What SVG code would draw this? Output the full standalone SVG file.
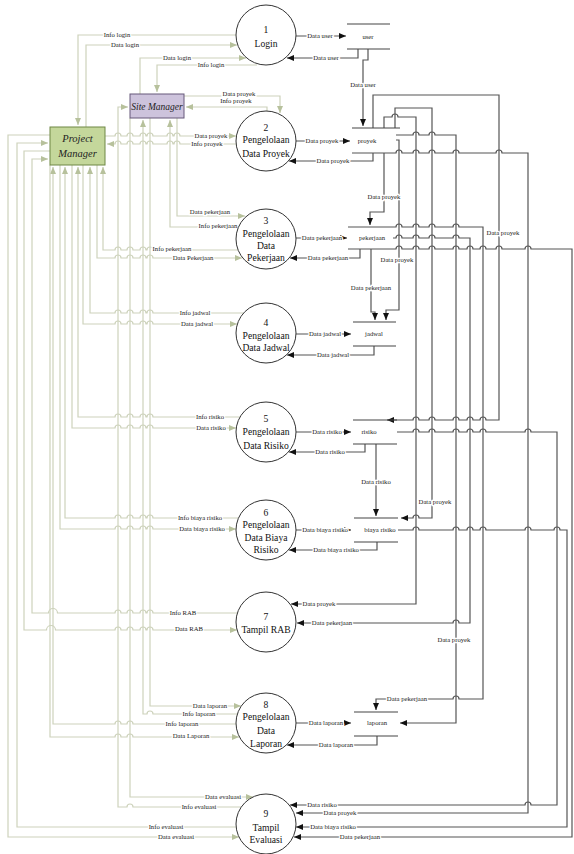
<svg xmlns="http://www.w3.org/2000/svg" width="574" height="854" viewBox="0 0 574 854" font-family="'Liberation Serif', 'DejaVu Serif', serif">
<defs>
<marker id="ab" markerWidth="7" markerHeight="6" refX="7" refY="3" orient="auto" markerUnits="userSpaceOnUse"><path d="M0,0 L7,3 L0,6 z" fill="#111"/></marker>
<marker id="ap" markerWidth="7" markerHeight="6" refX="7" refY="3" orient="auto" markerUnits="userSpaceOnUse"><path d="M0,0 L7,3 L0,6 z" fill="#b7c19c"/></marker>
<style>
.pl{fill:none;stroke:#cdd2bb;stroke-width:1.2;marker-end:url(#ap)}
.dl{fill:none;stroke:#555;stroke-width:1.2;marker-end:url(#ab)}
.st{fill:none;stroke:#444;stroke-width:1.2}
.lb{font-family:'Liberation Serif','DejaVu Serif',serif;font-size:6.7px;fill:#222;text-anchor:middle;stroke:#fff;stroke-width:2.5px;paint-order:stroke}
.sl{font-family:'Liberation Serif','DejaVu Serif',serif;font-size:6.7px;fill:#222;text-anchor:middle}
.pt{font-family:'Liberation Serif','DejaVu Serif',serif;font-size:9.6px;fill:#111;text-anchor:middle}
.pc{fill:#fff;stroke:#333;stroke-width:1}
.en{font-family:'Liberation Serif','DejaVu Serif',serif;font-style:italic;fill:#222;text-anchor:middle}
</style>
</defs>
<rect width="574" height="854" fill="#fff"/>
<g id="connectors">
<path class="pl" d="M236,35 H78 V125"/>
<path class="pl" d="M86,127 V45 H237"/>
<path class="pl" d="M140,94 V58 H246"/>
<path class="pl" d="M257,65 H157 V92"/>
<path class="pl" d="M184,96 H280 V113"/>
<path class="pl" d="M267,111 V107 H186"/>
<path class="pl" d="M105,136 H115 a3,3 0 0 1 6,0 H127 a3,3 0 0 1 6,0 H140 a3,3 0 0 1 6,0 H147 a3,3 0 0 1 6,0 H167 a3,3 0 0 1 6,0 H174 a3,3 0 0 1 6,0 H236"/>
<path class="pl" d="M236,144 H180 a3,3 0 0 0 -6,0 H173 a3,3 0 0 0 -6,0 H153 a3,3 0 0 0 -6,0 H146 a3,3 0 0 0 -6,0 H133 a3,3 0 0 0 -6,0 H121 a3,3 0 0 0 -6,0 H107"/>
<path class="pl" d="M177,118 V216 H245"/>
<path class="pl" d="M238,227 H170 V120"/>
<path class="pl" d="M238,250 H153 a3,3 0 0 0 -6,0 H146 a3,3 0 0 0 -6,0 H133 a3,3 0 0 0 -6,0 H121 a3,3 0 0 0 -6,0 H103 V167"/>
<path class="pl" d="M97,165 V258 H115 a3,3 0 0 1 6,0 H127 a3,3 0 0 1 6,0 H140 a3,3 0 0 1 6,0 H147 a3,3 0 0 1 6,0 H242"/>
<path class="pl" d="M243,313 H153 a3,3 0 0 0 -6,0 H146 a3,3 0 0 0 -6,0 H133 a3,3 0 0 0 -6,0 H121 a3,3 0 0 0 -6,0 H90 V167"/>
<path class="pl" d="M83,165 V324 H115 a3,3 0 0 1 6,0 H127 a3,3 0 0 1 6,0 H140 a3,3 0 0 1 6,0 H147 a3,3 0 0 1 6,0 H237"/>
<path class="pl" d="M240,417 H153 a3,3 0 0 0 -6,0 H146 a3,3 0 0 0 -6,0 H133 a3,3 0 0 0 -6,0 H121 a3,3 0 0 0 -6,0 H78 V167"/>
<path class="pl" d="M72,165 V428 H115 a3,3 0 0 1 6,0 H127 a3,3 0 0 1 6,0 H140 a3,3 0 0 1 6,0 H147 a3,3 0 0 1 6,0 H236"/>
<path class="pl" d="M238,518 H153 a3,3 0 0 0 -6,0 H146 a3,3 0 0 0 -6,0 H133 a3,3 0 0 0 -6,0 H121 a3,3 0 0 0 -6,0 H65 V167"/>
<path class="pl" d="M60,165 V529 H115 a3,3 0 0 1 6,0 H127 a3,3 0 0 1 6,0 H140 a3,3 0 0 1 6,0 H147 a3,3 0 0 1 6,0 H236"/>
<path class="pl" d="M237,613 H153 a3,3 0 0 0 -6,0 H146 a3,3 0 0 0 -6,0 H133 a3,3 0 0 0 -6,0 H121 a3,3 0 0 0 -6,0 H57.5 a4.5,4.5 0 0 0 -9,0 H32 V159 H48"/>
<path class="pl" d="M50,151 H24 V630 H46.5 a4.5,4.5 0 0 1 9,0 H115 a3,3 0 0 1 6,0 H127 a3,3 0 0 1 6,0 H140 a3,3 0 0 1 6,0 H147 a3,3 0 0 1 6,0 H237"/>
<path class="pl" d="M150,118 V706 H241"/>
<path class="pl" d="M237,714 H153 a3,3 0 0 0 -6,0 H143 V120"/>
<path class="pl" d="M236,724 H133 a3,3 0 0 0 -6,0 H121 a3,3 0 0 0 -6,0 H53 V167"/>
<path class="pl" d="M50,165 V737 H115 a3,3 0 0 1 6,0 H127 a3,3 0 0 1 6,0 H239"/>
<path class="pl" d="M130,118 V797 H253"/>
<path class="pl" d="M241,807 H133 a3,3 0 0 0 -6,0 H118 V107 H128"/>
<path class="pl" d="M236,827 H17 V143 H48"/>
<path class="pl" d="M50,135 H8 V837 H239"/>

<path class="dl" d="M296,36 H346"/>
<path class="dl" d="M358,49 V58 H287"/>
<path class="dl" d="M368,49 V60 H363 V126"/>
<path class="dl" d="M296,141 H350"/>
<path class="dl" d="M296,238 H347"/>
<path class="dl" d="M373,128 V95 H499 V420 H486 a3,3 0 0 0 -6,0 H473 a3,3 0 0 0 -6,0 H459 a3,3 0 0 0 -6,0 H435 a3,3 0 0 0 -6,0 H419 a3,3 0 0 0 -6,0 H387"/>
<path class="dl" d="M384,128 V117 H392 a3,3 0 0 1 6,0 H416 V604 H291"/>
<path class="dl" d="M395,128 V108 H432 V518 H419 a3,3 0 0 0 -6,0 H401"/>
<path class="dl" d="M396,135 H413 a3,3 0 0 1 6,0 H429 a3,3 0 0 1 6,0 H456 V723 H400"/>
<path class="dl" d="M396,140 H399 V310 H386 V320"/>
<path class="dl" d="M352,153 H396 a3,3 0 0 1 6,0 H413 a3,3 0 0 1 6,0 H429 a3,3 0 0 1 6,0 H453 a3,3 0 0 1 6,0 H496 a3,3 0 0 1 6,0 H528 V813 H296"/>
<path class="dl" d="M373,153 V161 H289"/>
<path class="dl" d="M384,153 V212 H370 V225"/>
<path class="dl" d="M348,227 H396 a3,3 0 0 1 6,0 H413 a3,3 0 0 1 6,0 H429 a3,3 0 0 1 6,0 H453 a3,3 0 0 1 6,0 H483 V699 H459 a3,3 0 0 0 -6,0 H376 V710"/>
<path class="dl" d="M393,238 H396 a3,3 0 0 1 6,0 H413 a3,3 0 0 1 6,0 H429 a3,3 0 0 1 6,0 H453 a3,3 0 0 1 6,0 H470 V623 H459 a3,3 0 0 0 -6,0 H297"/>
<path class="dl" d="M348,249 H396 a3,3 0 0 1 6,0 H413 a3,3 0 0 1 6,0 H429 a3,3 0 0 1 6,0 H453 a3,3 0 0 1 6,0 H467 a3,3 0 0 1 6,0 H480 a3,3 0 0 1 6,0 H496 a3,3 0 0 1 6,0 H525 a3,3 0 0 1 6,0 H572 V837 H294"/>
<path class="dl" d="M360,249 V258 H290"/>
<path class="dl" d="M371,249 V312 H375 V320"/>
<path class="dl" d="M296,334 H351"/>
<path class="dl" d="M374,346 V355 H287"/>
<path class="dl" d="M397,432 H413 a3,3 0 0 1 6,0 H429 a3,3 0 0 1 6,0 H453 a3,3 0 0 1 6,0 H467 a3,3 0 0 1 6,0 H480 a3,3 0 0 1 6,0 H525 a3,3 0 0 1 6,0 H557 V805 H531 a3,3 0 0 0 -6,0 H290"/>
<path class="dl" d="M296,432 H351"/>
<path class="dl" d="M365,444 V452 H289"/>
<path class="dl" d="M376,444 V516"/>
<path class="dl" d="M398,530 H413 a3,3 0 0 1 6,0 H453 a3,3 0 0 1 6,0 H467 a3,3 0 0 1 6,0 H480 a3,3 0 0 1 6,0 H525 a3,3 0 0 1 6,0 H554 a3,3 0 0 1 6,0 H567 V827 H296"/>
<path class="dl" d="M296,530 H351"/>
<path class="dl" d="M377,542 V550 H289"/>
<path class="dl" d="M296,723 H351"/>
<path class="dl" d="M377,736 V745 H287"/>

<g id="connector-labels">
<text class="lb" x="117" y="37">Info login</text>
<text class="lb" x="125" y="47">Data login</text>
<text class="lb" x="177" y="60">Data login</text>
<text class="lb" x="211" y="67">Info login</text>
<text class="lb" x="239" y="96">Data proyek</text>
<text class="lb" x="236" y="103">Info proyek</text>
<text class="lb" x="211" y="138">Data proyek</text>
<text class="lb" x="207" y="146">Info proyek</text>
<text class="lb" x="210" y="214">Data pekerjaan</text>
<text class="lb" x="218" y="228">Info pekerjaan</text>
<text class="lb" x="172" y="251">Info pekerjaan</text>
<text class="lb" x="193" y="260">Data Pekerjaan</text>
<text class="lb" x="195" y="315">Info jadwal</text>
<text class="lb" x="197" y="326">Data jadwal</text>
<text class="lb" x="210" y="419">Info risiko</text>
<text class="lb" x="211" y="430">Data risiko</text>
<text class="lb" x="200" y="520">Info biaya risiko</text>
<text class="lb" x="202" y="531">Data biaya risiko</text>
<text class="lb" x="183" y="615">Info RAB</text>
<text class="lb" x="189" y="631">Data RAB</text>
<text class="lb" x="210" y="708">Data laporan</text>
<text class="lb" x="199" y="716">Info laporan</text>
<text class="lb" x="182" y="726">Info laporan</text>
<text class="lb" x="191" y="738">Data Laporan</text>
<text class="lb" x="223" y="799">Data evaluasi</text>
<text class="lb" x="199" y="809">Info evaluasi</text>
<text class="lb" x="166" y="829">Info evaluasi</text>
<text class="lb" x="176" y="839">Data evaluasi</text>

<text class="lb" x="320" y="38">Data user</text>
<text class="lb" x="326" y="60">Data user</text>
<text class="lb" x="363" y="87">Data user</text>
<text class="lb" x="322" y="143">Data proyek</text>
<text class="lb" x="333" y="163">Data proyek</text>
<text class="lb" x="384" y="199">Data proyek</text>
<text class="lb" x="322" y="240">Data pekerjaan</text>
<text class="lb" x="328" y="260">Data pekerjaan</text>
<text class="lb" x="503" y="235">Data proyek</text>
<text class="lb" x="397" y="262">Data proyek</text>
<text class="lb" x="371" y="290">Data pekerjaan</text>
<text class="lb" x="325" y="336">Data jadwal</text>
<text class="lb" x="333" y="357">Data jadwal</text>
<text class="lb" x="327" y="434">Data risiko</text>
<text class="lb" x="330" y="454">Data risiko</text>
<text class="lb" x="376" y="484">Data risiko</text>
<text class="lb" x="435" y="504">Data proyek</text>
<text class="lb" x="325" y="532">Data biaya risiko</text>
<text class="lb" x="336" y="552">Data biaya risiko</text>
<text class="lb" x="319" y="606">Data proyek</text>
<text class="lb" x="332" y="625">Data pekerjaan</text>
<text class="lb" x="454" y="642">Data proyek</text>
<text class="lb" x="407" y="701">Data pekerjaan</text>
<text class="lb" x="326" y="725">Data laporan</text>
<text class="lb" x="336" y="747">Data laporan</text>
<text class="lb" x="322" y="807">Data risiko</text>
<text class="lb" x="340" y="815">Data proyek</text>
<text class="lb" x="333" y="829">Data biaya risiko</text>
<text class="lb" x="360" y="839">Data pekerjaan</text>
</g>
</g>

<g id="store-user"><path class="st" d="M347,24 H390 M347,49 H390"/><text class="sl" x="368" y="39">user</text></g>
<g id="store-proyek"><path class="st" d="M352,128 H400"/><text class="sl" x="367" y="143">proyek</text></g>
<g id="store-pekerjaan"><text class="sl" x="372" y="240">pekerjaan</text></g>
<g id="store-jadwal"><path class="st" d="M353,322 H396 M353,346 H396"/><text class="sl" x="374" y="336">jadwal</text></g>
<g id="store-risiko"><path class="st" d="M353,420 H397 M353,444 H397"/><text class="sl" x="369" y="434">risiko</text></g>
<g id="store-biaya-risiko"><path class="st" d="M354,518 H398 M354,542 H398"/><text class="sl" x="380" y="532">biaya risiko</text></g>
<g id="store-laporan"><path class="st" d="M354,712 H398 M354,736 H398"/><text class="sl" x="377" y="725">laporan</text></g>

<g id="project-manager"><rect x="50" y="127" width="55" height="38" fill="#c4d79b" stroke="#6f8744" stroke-width="1"/><text class="en" font-size="10.5" x="77.5" y="142">Project</text><text class="en" font-size="10.5" x="77.5" y="157">Manager</text></g>
<g id="site-manager"><rect x="130" y="94" width="54" height="24" fill="#cdc3dc" stroke="#66597a" stroke-width="1"/><text class="en" font-size="9.5" x="157" y="110">Site Manager</text></g>

<g id="p1"><circle class="pc" cx="266" cy="35" r="30"/><text class="pt" font-size="11" x="266" y="33">1</text><text class="pt" font-size="11" x="266" y="47">Login</text></g>
<g id="p2"><circle class="pc" cx="266" cy="141" r="30"/><text class="pt" x="266" y="131">2</text><text class="pt" x="266" y="143">Pengelolaan</text><text class="pt" x="266" y="157">Data Proyek</text></g>
<g id="p3"><circle class="pc" cx="266" cy="239" r="30"/><text class="pt" x="266" y="224">3</text><text class="pt" x="266" y="237">Pengelolaan</text><text class="pt" x="266" y="249">Data</text><text class="pt" x="266" y="261">Pekerjaan</text></g>
<g id="p4"><circle class="pc" cx="266" cy="333" r="30"/><text class="pt" x="266" y="326">4</text><text class="pt" x="266" y="339">Pengelolaan</text><text class="pt" x="266" y="351">Data Jadwal</text></g>
<g id="p5"><circle class="pc" cx="266" cy="432" r="30"/><text class="pt" x="266" y="422">5</text><text class="pt" x="266" y="435">Pengelolaan</text><text class="pt" x="266" y="449">Data Risiko</text></g>
<g id="p6"><circle class="pc" cx="266" cy="530" r="30"/><text class="pt" x="266" y="516">6</text><text class="pt" x="266" y="528">Pengelolaan</text><text class="pt" x="266" y="541">Data Biaya</text><text class="pt" x="266" y="553">Risiko</text></g>
<g id="p7"><circle class="pc" cx="266" cy="622" r="30"/><text class="pt" x="266" y="620">7</text><text class="pt" x="266" y="633">Tampil RAB</text></g>
<g id="p8"><circle class="pc" cx="266" cy="723" r="30"/><text class="pt" x="266" y="708">8</text><text class="pt" x="266" y="720">Pengelolaan</text><text class="pt" x="266" y="734">Data</text><text class="pt" x="266" y="747">Laporan</text></g>
<g id="p9"><circle class="pc" cx="266" cy="824" r="30"/><text class="pt" x="266" y="817">9</text><text class="pt" x="266" y="831">Tampil</text><text class="pt" x="266" y="843">Evaluasi</text></g>
</svg>
